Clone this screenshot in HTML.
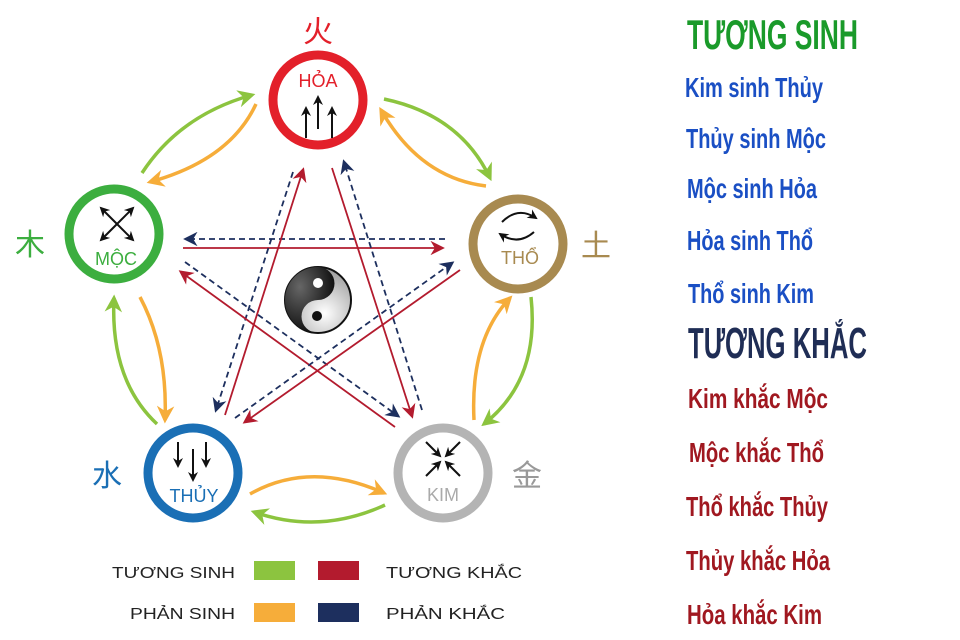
<!DOCTYPE html>
<html><head><meta charset="utf-8"><style>
html,body{margin:0;padding:0;background:#fff;width:960px;height:640px;overflow:hidden}
svg{display:block}
.r{font-family:"Liberation Sans","Noto Sans CJK SC",sans-serif;font-weight:bold}
.c{font-family:"Liberation Sans","Noto Sans CJK SC",sans-serif}
</style></head><body>
<svg width="960" height="640" viewBox="0 0 960 640" xmlns="http://www.w3.org/2000/svg">
<defs>
<marker id="mg" viewBox="0 0 10 10" refX="8" refY="5" markerWidth="5" markerHeight="5" orient="auto" markerUnits="strokeWidth"><path d="M0,0 L10,5 L0,10 L3,5z" fill="#8cc43f"/></marker>
<marker id="mo" viewBox="0 0 10 10" refX="8" refY="5" markerWidth="5" markerHeight="5" orient="auto" markerUnits="strokeWidth"><path d="M0,0 L10,5 L0,10 L3,5z" fill="#f6ad3a"/></marker>
<marker id="mr" viewBox="0 0 10 10" refX="8" refY="5" markerWidth="8" markerHeight="8" orient="auto" markerUnits="strokeWidth"><path d="M0,0 L10,5 L0,10 L3,5z" fill="#b31b2e"/></marker>
<marker id="mn" viewBox="0 0 10 10" refX="8" refY="5" markerWidth="8" markerHeight="8" orient="auto" markerUnits="strokeWidth"><path d="M0,0 L10,5 L0,10 L3,5z" fill="#1d2f5e"/></marker>
<marker id="mk" viewBox="0 0 10 10" refX="8" refY="5" markerWidth="5" markerHeight="5" orient="auto" markerUnits="strokeWidth"><path d="M0,0 L10,5 L0,10 L3,5z" fill="#111"/></marker>
<radialGradient id="yg" cx="0.6" cy="0.7" r="0.7"><stop offset="0" stop-color="#fff"/><stop offset="1" stop-color="#999"/></radialGradient>
<radialGradient id="yb" cx="0.3" cy="0.3" r="0.7"><stop offset="0" stop-color="#666"/><stop offset="1" stop-color="#111"/></radialGradient>
</defs>

<g stroke-width="1.8" fill="none">
<line x1="183" y1="248" x2="442" y2="248" stroke="#b31b2e" marker-end="url(#mr)"/>
<line x1="445" y1="239" x2="186" y2="239" stroke="#1d2f5e" stroke-dasharray="6,4" marker-end="url(#mn)"/>
<line x1="332" y1="168" x2="412" y2="416" stroke="#b31b2e" marker-end="url(#mr)"/>
<line x1="422" y1="410" x2="344" y2="162" stroke="#1d2f5e" stroke-dasharray="6,4" marker-end="url(#mn)"/>
<line x1="225" y1="415" x2="303" y2="170" stroke="#b31b2e" marker-end="url(#mr)"/>
<line x1="293" y1="172" x2="216" y2="410" stroke="#1d2f5e" stroke-dasharray="6,4" marker-end="url(#mn)"/>
<line x1="395" y1="427" x2="181" y2="272" stroke="#b31b2e" marker-end="url(#mr)"/>
<line x1="185" y1="262" x2="398" y2="416" stroke="#1d2f5e" stroke-dasharray="6,4" marker-end="url(#mn)"/>
<line x1="460" y1="270" x2="245" y2="422" stroke="#b31b2e" marker-end="url(#mr)"/>
<line x1="235" y1="418" x2="452" y2="263" stroke="#1d2f5e" stroke-dasharray="6,4" marker-end="url(#mn)"/>
</g>

<g stroke-width="3.5" fill="none">
<path d="M142,173 Q180,115 252,95" stroke="#8cc43f" marker-end="url(#mg)"/>
<path d="M256,104 Q230,160 150,182" stroke="#f6ad3a" marker-end="url(#mo)"/>
<path d="M384,99 Q460,115 490,178" stroke="#8cc43f" marker-end="url(#mg)"/>
<path d="M486,186 Q420,178 381,110" stroke="#f6ad3a" marker-end="url(#mo)"/>
<path d="M531,297 Q540,380 484,424" stroke="#8cc43f" marker-end="url(#mg)"/>
<path d="M474,420 Q470,340 510,298" stroke="#f6ad3a" marker-end="url(#mo)"/>
<path d="M385,505 Q320,535 254,512" stroke="#8cc43f" marker-end="url(#mg)"/>
<path d="M250,494 Q310,460 384,493" stroke="#f6ad3a" marker-end="url(#mo)"/>
<path d="M157,424 Q110,380 114,298" stroke="#8cc43f" marker-end="url(#mg)"/>
<path d="M140,297 Q168,350 165,420" stroke="#f6ad3a" marker-end="url(#mo)"/>
</g>

<g fill="#fff" stroke-width="9">
<circle cx="318" cy="100" r="45" stroke="#e3202a"/>
<circle cx="114" cy="234" r="45" stroke="#3cae3f"/>
<circle cx="518" cy="244" r="45" stroke="#a88a50"/>
<circle cx="193" cy="473" r="45" stroke="#1a6fb5"/>
<circle cx="443" cy="473" r="45" stroke="#b4b4b4"/>
</g>

<g stroke="#111" stroke-width="2" fill="none">
<line x1="306" y1="138" x2="306" y2="108" marker-end="url(#mk)"/>
<line x1="318" y1="129" x2="318" y2="97" marker-end="url(#mk)"/>
<line x1="332" y1="138" x2="332" y2="108" marker-end="url(#mk)"/>
<line x1="117" y1="224" x2="101" y2="208" marker-end="url(#mk)"/>
<line x1="117" y1="224" x2="133" y2="208" marker-end="url(#mk)"/>
<line x1="117" y1="224" x2="101" y2="240" marker-end="url(#mk)"/>
<line x1="117" y1="224" x2="133" y2="240" marker-end="url(#mk)"/>
<path d="M502,222 Q518,206 536,218" marker-end="url(#mk)"/>
<path d="M534,232 Q518,246 500,234" marker-end="url(#mk)"/>
<line x1="178" y1="442" x2="178" y2="466" marker-end="url(#mk)"/>
<line x1="193" y1="449" x2="193" y2="480" marker-end="url(#mk)"/>
<line x1="206" y1="442" x2="206" y2="466" marker-end="url(#mk)"/>
<line x1="426" y1="442" x2="440" y2="456" marker-end="url(#mk)"/>
<line x1="460" y1="442" x2="446" y2="456" marker-end="url(#mk)"/>
<line x1="426" y1="476" x2="440" y2="462" marker-end="url(#mk)"/>
<line x1="460" y1="476" x2="446" y2="462" marker-end="url(#mk)"/>
</g>
<g class="c" font-size="18" text-anchor="middle">
<text x="318" y="87" fill="#e3202a">HỎA</text>
<text x="116" y="265" fill="#3cae3f">MỘC</text>
<text x="520" y="264" fill="#a88a50">THỔ</text>
<text x="194" y="502" fill="#1a6fb5">THỦY</text>
<text x="443" y="501" fill="#aaa">KIM</text>
</g>
<g class="c" font-size="30" text-anchor="middle">
<text x="318" y="42" fill="#e3202a">火</text>
<text x="30" y="255" fill="#3cae3f">木</text>
<text x="596" y="256" fill="#a88a50">土</text>
<text x="107" y="486" fill="#1a6fb5">水</text>
<text x="527" y="486" fill="#999">金</text>
</g>

<g transform="translate(318,300)">
<circle r="33" fill="url(#yg)" stroke="#111" stroke-width="2"/>
<path d="M0,-33 A33,33 0 0,0 0,33 A16.5,16.5 0 0,1 0,0 A16.5,16.5 0 0,0 0,-33z" fill="url(#yb)"/>
<circle cy="-17" r="5" fill="#fff"/>
<circle cx="-1" cy="16" r="5" fill="#111"/>
</g>

<g class="c" font-size="16" fill="#222">
<text x="112" y="578" textLength="123" lengthAdjust="spacingAndGlyphs">TƯƠNG SINH</text>
<text x="130" y="619" textLength="105" lengthAdjust="spacingAndGlyphs">PHẢN SINH</text>
<text x="386" y="578" textLength="136" lengthAdjust="spacingAndGlyphs">TƯƠNG KHẮC</text>
<text x="386" y="619" textLength="119" lengthAdjust="spacingAndGlyphs">PHẢN KHẮC</text>
</g>
<rect x="254" y="561" width="41" height="19" fill="#8cc43f"/>
<rect x="318" y="561" width="41" height="19" fill="#b31b2e"/>
<rect x="254" y="603" width="41" height="19" fill="#f6ad3a"/>
<rect x="318" y="603" width="41" height="19" fill="#1d2f5e"/>

<g class="r">
<text x="687" y="49" font-size="42" fill="#1a9a2a" textLength="171" lengthAdjust="spacingAndGlyphs">TƯƠNG SINH</text>
<g font-size="28" fill="#1a4fc4">
<text x="685" y="97" textLength="138" lengthAdjust="spacingAndGlyphs">Kim sinh Thủy</text>
<text x="686" y="148" textLength="140" lengthAdjust="spacingAndGlyphs">Thủy sinh Mộc</text>
<text x="687" y="198" textLength="130" lengthAdjust="spacingAndGlyphs">Mộc sinh Hỏa</text>
<text x="687" y="250" textLength="126" lengthAdjust="spacingAndGlyphs">Hỏa sinh Thổ</text>
<text x="688" y="303" textLength="126" lengthAdjust="spacingAndGlyphs">Thổ sinh Kim</text>
</g>
<text x="688" y="358" font-size="44" fill="#1f2d55" textLength="179" lengthAdjust="spacingAndGlyphs">TƯƠNG KHẮC</text>
<g font-size="28" fill="#a01820">
<text x="688" y="408" textLength="140" lengthAdjust="spacingAndGlyphs">Kim khắc Mộc</text>
<text x="689" y="462" textLength="135" lengthAdjust="spacingAndGlyphs">Mộc khắc Thổ</text>
<text x="686" y="516" textLength="142" lengthAdjust="spacingAndGlyphs">Thổ khắc Thủy</text>
<text x="686" y="570" textLength="144" lengthAdjust="spacingAndGlyphs">Thủy khắc Hỏa</text>
<text x="687" y="624" textLength="135" lengthAdjust="spacingAndGlyphs">Hỏa khắc Kim</text>
</g>
</g>
</svg>
</body></html>
